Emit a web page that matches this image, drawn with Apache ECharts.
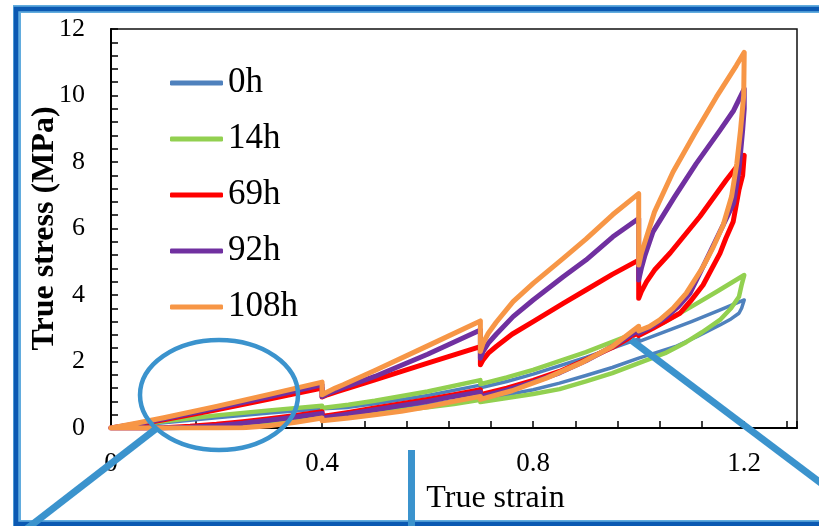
<!DOCTYPE html>
<html>
<head>
<meta charset="utf-8">
<script src="https://cdn.jsdelivr.net/npm/echarts@6/dist/echarts.min.js"></script>
<style>
  html, body { margin: 0; padding: 0; background: #fff; }
  #chart { width: 819px; height: 526px; }
</style>
</head>
<body>
<div id="chart"></div>
<script>
// Cyclic loading / unloading curves: [true strain, true stress (MPa)]
const seriesNames = ['0h', '14h', '69h', '92h', '108h'];
const seriesColors = ['#4F81BD', '#92D050', '#FF0000', '#7030A0', '#F79646'];

const curve0h = [
  [0,0],[0.05,0.08],[0.1,0.16],[0.2,0.31],[0.3,0.45],[0.4,0.58],
  [0.4,0.53],[0.45,0.62],[0.5,0.73],[0.6,0.98],[0.7,1.29],
  [0.7,1.21],[0.75,1.4],[0.8,1.62],[0.9,2.12],[1.0,2.68],
  [1.0,2.6],[1.05,2.9],[1.1,3.2],[1.15,3.52],[1.2,3.85],
  [1.195,3.6],[1.19,3.45],[1.175,3.28],[1.154,3.1],[1.11,2.75],[1.07,2.45],[1.03,2.25],[1.0,2.1],
  [1.0,2.15],[0.95,1.82],[0.9,1.58],[0.85,1.35],[0.8,1.15],[0.75,1.0],[0.7,0.88],
  [0.7,0.95],[0.65,0.82],[0.6,0.7],[0.5,0.52],[0.45,0.44],[0.4,0.37],
  [0.4,0.43],[0.35,0.33],[0.3,0.24],[0.25,0.15],[0.2,0.08],[0.15,0.03],[0.1,0],[0,0]
];

const curve14h = [
  [0,0],[0.05,0.1],[0.1,0.2],[0.2,0.38],[0.3,0.53],[0.4,0.67],
  [0.4,0.6],[0.45,0.7],[0.5,0.82],[0.6,1.1],[0.7,1.44],
  [0.7,1.32],[0.75,1.52],[0.8,1.75],[0.9,2.28],[1.0,2.9],
  [1.0,2.82],[1.05,3.2],[1.1,3.65],[1.15,4.12],[1.2,4.6],
  [1.195,4.3],[1.19,3.95],[1.175,3.6],[1.154,3.25],[1.12,2.88],[1.09,2.58],[1.05,2.25],[1.0,1.95],
  [1.0,2.0],[0.95,1.65],[0.9,1.4],[0.85,1.17],[0.8,1.02],[0.75,0.9],[0.7,0.78],
  [0.7,0.85],[0.65,0.72],[0.6,0.62],[0.5,0.46],[0.4,0.3],
  [0.4,0.36],[0.35,0.26],[0.3,0.17],[0.25,0.1],[0.2,0.05],[0.15,0.01],[0.1,0],[0,0]
];

const curve69h = [
  [0,0],[0.05,0.11],[0.1,0.25],[0.2,0.55],[0.3,0.87],[0.4,1.2],
  [0.4,0.93],[0.41,1.0],[0.43,1.1],[0.45,1.2],[0.5,1.45],[0.6,1.95],[0.7,2.45],
  [0.7,1.9],[0.705,2.05],[0.715,2.25],[0.73,2.45],[0.76,2.82],[0.8,3.2],[0.857,3.75],[0.9,4.15],[0.95,4.62],[1.0,5.05],
  [1.0,3.9],[1.005,4.1],[1.015,4.4],[1.03,4.75],[1.06,5.27],[1.116,6.36],[1.166,7.46],[1.19,7.95],[1.2,8.2],
  [1.197,7.6],[1.19,7.16],[1.179,6.2],[1.165,5.7],[1.154,5.25],[1.122,4.3],[1.1,3.85],[1.078,3.45],[1.05,3.2],[1.027,3.0],[1.0,2.78],
  [1.0,2.88],[0.95,2.42],[0.9,2.05],[0.85,1.7],[0.8,1.43],[0.75,1.2],[0.7,1.0],
  [0.7,1.15],[0.65,1.0],[0.6,0.86],[0.5,0.6],[0.45,0.47],[0.4,0.35],
  [0.4,0.49],[0.35,0.38],[0.3,0.28],[0.25,0.19],[0.2,0.11],[0.15,0.05],[0.1,0.01],[0.07,0],[0,0]
];

const curve92h = [
  [0,0],[0.05,0.13],[0.1,0.28],[0.2,0.6],[0.3,0.94],[0.4,1.3],
  [0.4,0.95],[0.41,1.03],[0.43,1.15],[0.45,1.27],[0.5,1.55],[0.6,2.22],[0.7,2.95],
  [0.7,2.1],[0.705,2.3],[0.715,2.55],[0.73,2.82],[0.762,3.35],[0.8,3.85],[0.857,4.55],[0.9,5.05],[0.951,5.75],[1.0,6.3],
  [1.0,4.45],[1.005,4.8],[1.012,5.2],[1.027,5.9],[1.068,6.95],[1.109,7.95],[1.154,8.95],[1.18,9.55],[1.2,10.2],
  [1.2,9.6],[1.197,8.96],[1.19,7.76],[1.18,6.76],[1.16,6.1],[1.128,5.05],[1.097,4.05],[1.075,3.65],[1.053,3.35],[1.025,3.05],[1.0,2.85],
  [1.0,2.95],[0.95,2.45],[0.9,2.02],[0.85,1.66],[0.8,1.38],[0.75,1.14],[0.7,0.94],
  [0.7,1.08],[0.65,0.95],[0.6,0.8],[0.5,0.55],[0.45,0.42],[0.4,0.3],
  [0.4,0.44],[0.35,0.33],[0.3,0.23],[0.25,0.14],[0.2,0.07],[0.15,0.02],[0.1,0],[0,0]
];

const curve108h = [
  [0,0],[0.05,0.15],[0.1,0.31],[0.2,0.65],[0.3,1.01],[0.4,1.38],
  [0.4,1.0],[0.41,1.08],[0.425,1.2],[0.44,1.3],[0.5,1.73],[0.6,2.47],[0.7,3.22],
  [0.7,2.3],[0.705,2.55],[0.715,2.85],[0.73,3.18],[0.762,3.8],[0.8,4.35],[0.857,5.1],[0.9,5.68],[0.951,6.42],[1.0,7.05],
  [1.0,4.9],[1.005,5.25],[1.012,5.6],[1.03,6.5],[1.065,7.7],[1.106,8.85],[1.147,9.95],[1.185,10.9],[1.2,11.3],
  [1.199,10.0],[1.193,8.96],[1.186,7.96],[1.176,6.96],[1.16,6.1],[1.14,5.4],[1.122,4.85],[1.09,4.05],[1.065,3.6],[1.04,3.25],[1.02,3.05],[1.0,2.92],
  [1.0,3.06],[0.95,2.45],[0.89,1.95],[0.825,1.5],[0.76,1.12],[0.7,0.86],
  [0.7,0.95],[0.65,0.8],[0.6,0.64],[0.55,0.5],[0.5,0.4],[0.45,0.3],[0.4,0.22],
  [0.4,0.3],[0.35,0.17],[0.3,0.07],[0.25,0.01],[0.2,0],[0,0]
];

const curves = [curve0h, curve14h, curve69h, curve92h, curve108h];
const lineWidths = [3.5, 4.5, 5, 5, 5];

const xLabelStep = 0.4;
const yLabelStep = 2;
const serif = 'Liberation Serif';
const frameBlue = '#0B59B2';
const frameLight = '#62ACDE';
const calloutBlue = '#3B93CD';

function isMultiple(v, step) {
  const q = v / step;
  return Math.abs(q - Math.round(q)) < 1e-6;
}

const chart = echarts.init(document.getElementById('chart'), null, { renderer: 'canvas' });

chart.setOption({
  animation: false,
  backgroundColor: '#fff',
  grid: {
    left: 111, top: 29, right: 22, bottom: 98,
    show: true, borderColor: '#111', borderWidth: 1.5
  },
  legend: {
    orient: 'vertical',
    left: 165, top: 58,
    icon: 'roundRect',
    itemWidth: 53, itemHeight: 5,
    itemGap: 16, itemTextGap: 5,
    data: seriesNames,
    textStyle: { fontFamily: serif, fontSize: 35, color: '#000', lineHeight: 40 }
  },
  xAxis: {
    type: 'value',
    min: 0, max: 1.3, interval: 0.08,
    name: 'True strain',
    nameLocation: 'middle',
    nameGap: 55,
    nameMoveOverlap: false,
    nameTextStyle: { fontFamily: serif, fontSize: 32, color: '#000', padding: [0, 0, 0, 83] },
    axisLine: { lineStyle: { color: '#000', width: 2 } },
    axisTick: { inside: true, length: 7, lineStyle: { color: '#000', width: 1.5 } },
    splitLine: { show: false },
    axisLabel: {
      margin: 22,
      fontFamily: serif, fontSize: 27, color: '#000',
      formatter: v => (isMultiple(v, xLabelStep) && v <= 1.2 + 1e-9) ? (v === 0 ? '0' : v.toFixed(1)) : ''
    }
  },
  yAxis: {
    type: 'value',
    min: 0, max: 12, interval: 0.4,
    name: 'True stress (MPa)',
    nameLocation: 'middle',
    nameGap: 50,
    nameMoveOverlap: false,
    nameTextStyle: { fontFamily: serif, fontSize: 32, fontWeight: 'bold', color: '#000' },
    axisLine: { show: true, lineStyle: { color: '#000', width: 2 } },
    axisTick: { show: true, inside: true, length: 7, lineStyle: { color: '#000', width: 1.5 } },
    splitLine: { show: false },
    axisLabel: {
      margin: 26,
      fontFamily: serif, fontSize: 26, color: '#000',
      formatter: v => isMultiple(v, yLabelStep) ? String(Math.round(v)) : ''
    }
  },
  series: seriesNames.map((name, i) => ({
    name: name,
    type: 'line',
    data: curves[i],
    showSymbol: false,
    symbol: 'none',
    smooth: false,
    color: seriesColors[i],
    itemStyle: { color: seriesColors[i] },
    lineStyle: { color: seriesColors[i], width: lineWidths[i], join: 'round', cap: 'round' },
    z: 2 + i
  })),
  graphic: [
    // outer blue frame
    { type: 'rect', z: 100, silent: true,
      shape: { x: 17, y: 9, width: 830, height: 515 },
      style: { fill: 'none', stroke: frameLight, lineWidth: 8 } },
    { type: 'rect', z: 101, silent: true,
      shape: { x: 16, y: 9, width: 830, height: 515 },
      style: { fill: 'none', stroke: frameBlue, lineWidth: 4.5 } },
    // zoom callout: ellipse and connector lines
    { type: 'ellipse', z: 110, silent: true,
      shape: { cx: 219, cy: 395, rx: 79, ry: 55 },
      style: { fill: 'none', stroke: calloutBlue, lineWidth: 4.5 } },
    { type: 'line', z: 110, silent: true,
      shape: { x1: 157, y1: 428, x2: 20, y2: 534 },
      style: { stroke: calloutBlue, lineWidth: 7 } },
    { type: 'line', z: 110, silent: true,
      shape: { x1: 411.5, y1: 450, x2: 411.5, y2: 530 },
      style: { stroke: calloutBlue, lineWidth: 7 } },
    { type: 'line', z: 110, silent: true,
      shape: { x1: 631, y1: 340, x2: 830, y2: 490 },
      style: { stroke: calloutBlue, lineWidth: 7 } }
  ]
});
</script>
</body>
</html>
